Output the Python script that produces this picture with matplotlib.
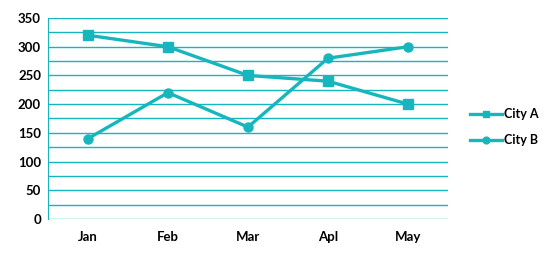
import matplotlib.pyplot as plt
from matplotlib.ticker import MultipleLocator

months = ['Jan', 'Feb', 'Mar', 'Apl', 'May']
city_a = [320, 300, 250, 240, 200]
city_b = [140, 220, 160, 280, 300]

teal = '#17B6BE'

fig = plt.figure(figsize=(5.45, 2.54), dpi=100)
ax = fig.add_axes([0.088, 0.138, 0.734, 0.791])

x = range(len(months))
ax.plot(x, city_a, color=teal, lw=2.4, marker='s', ms=6.5, label='City A')
ax.plot(x, city_b, color=teal, lw=2.4, marker='o', ms=6.5, label='City B')

ax.set_xlim(-0.5, len(months) - 0.5)
ax.set_ylim(0, 350)
ax.yaxis.set_major_locator(MultipleLocator(50))
ax.yaxis.set_minor_locator(MultipleLocator(25))
ax.grid(axis='y', which='both', color=teal, lw=1)
ax.set_axisbelow(True)
ax.set_xticks(list(x))
ax.set_xticklabels(months)

for s in ['top', 'right', 'bottom']:
    ax.spines[s].set_visible(False)
ax.spines['left'].set_color(teal)
ax.tick_params(length=0, which='both', labelsize=9.5, pad=5)
for lbl in ax.get_xticklabels() + ax.get_yticklabels():
    lbl.set_fontfamily('Lato')
    lbl.set_fontweight('bold')
ax.tick_params(axis='x', pad=9)

leg = fig.legend(loc='center left', bbox_to_anchor=(0.862, 0.5), frameon=False,
                 prop={'family': 'Lato', 'weight': 'bold', 'size': 9},
                 handlelength=2.6, handletextpad=0.15, labelspacing=1.1,
                 borderpad=0, borderaxespad=0, markerscale=0.75)

fig.savefig('out.png', dpi=100)
